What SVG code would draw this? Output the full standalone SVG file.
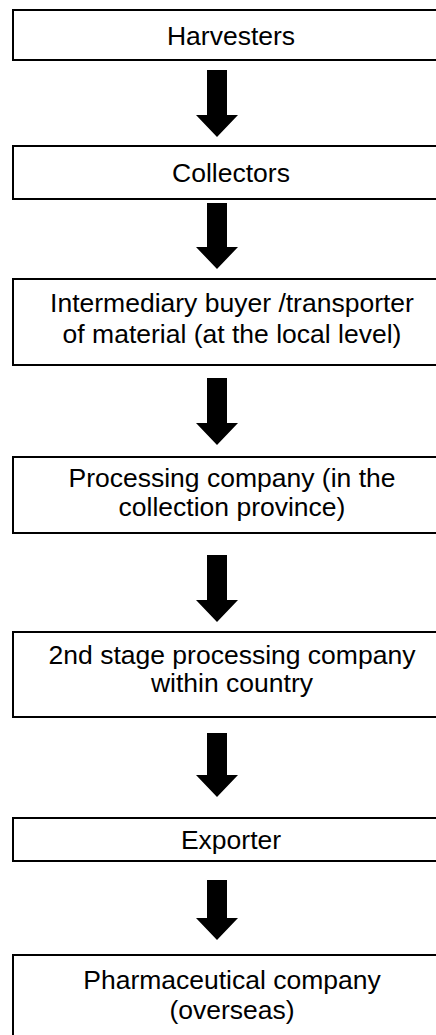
<svg xmlns="http://www.w3.org/2000/svg" width="436" height="1035" viewBox="0 0 436 1035">
<style>
.box{fill:#fff;stroke:#000;stroke-width:2}
.t{font-family:"Liberation Sans",Arial,sans-serif;font-size:26.5px;fill:#000;text-anchor:middle}
.arr{fill:#000}
</style>
<rect width="436" height="1035" fill="#fff"/>
<g id="n1"><rect class="box" x="13" y="10" width="440" height="50"/><text class="t" x="231" y="45">Harvesters</text></g>
<g id="n2"><rect class="box" x="13" y="146" width="440" height="53"/><text class="t" x="231" y="182">Collectors</text></g>
<g id="n3"><rect class="box" x="13" y="279" width="440" height="86"/><text class="t" x="232" y="312">Intermediary buyer /transporter</text><text class="t" x="232" y="343">of material (at the local level)</text></g>
<g id="n4"><rect class="box" x="13" y="457" width="440" height="76"/><text class="t" x="232" y="487">Processing company (in the</text><text class="t" x="232" y="516">collection province)</text></g>
<g id="n5"><rect class="box" x="13" y="632" width="440" height="85"/><text class="t" x="232" y="664">2nd stage processing company</text><text class="t" x="232" y="692">within country</text></g>
<g id="n6"><rect class="box" x="13" y="818" width="440" height="43"/><text class="t" x="231" y="849">Exporter</text></g>
<g id="n7"><rect class="box" x="13" y="955" width="440" height="100"/><text class="t" x="232" y="989">Pharmaceutical company</text><text class="t" x="232" y="1019">(overseas)</text></g>
<g id="connectors">
<polygon class="arr" points="207,70 227,70 227,115 238,115 217,137 196,115 207,115"/>
<polygon class="arr" points="207,203 227,203 227,247 238,247 217,269 196,247 207,247"/>
<polygon class="arr" points="207,378 227,378 227,423 238,423 217,445 196,423 207,423"/>
<polygon class="arr" points="207,555 227,555 227,600 238,600 217,622 196,600 207,600"/>
<polygon class="arr" points="207,733 227,733 227,775 238,775 217,797 196,775 207,775"/>
<polygon class="arr" points="207,880 227,880 227,918 238,918 217,940 196,918 207,918"/>
</g>
</svg>
